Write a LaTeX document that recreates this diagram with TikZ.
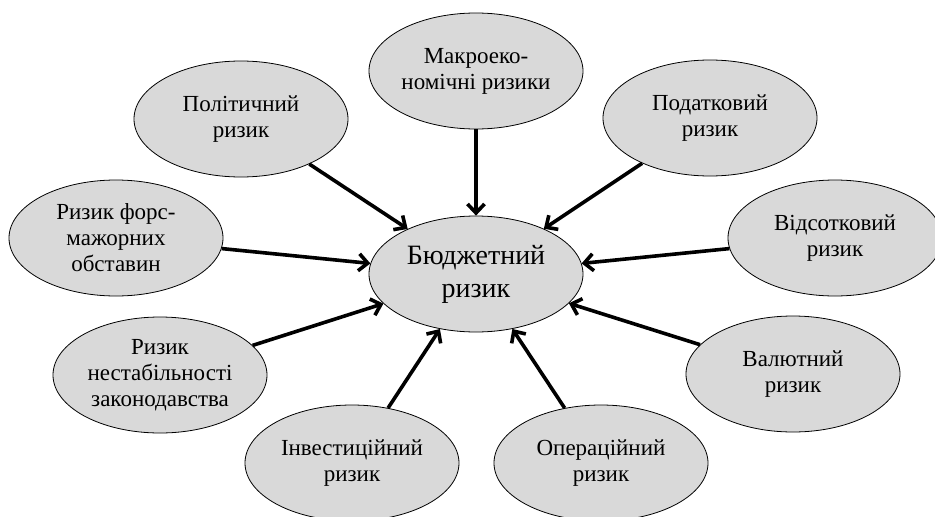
\documentclass[tikz,border=0pt]{standalone}
\usepackage{fontspec}
\setmainfont{Liberation Serif}
\usepackage{tikz}
\usetikzlibrary{shapes.geometric,arrows.meta}

\definecolor{ovalgray}{RGB}{217,217,217}

\begin{document}
\begin{tikzpicture}[
x=1pt, y=-1pt,
risk/.style={ellipse, draw=black, line width=0.8pt, fill=ovalgray, inner sep=0pt, minimum width=214pt, minimum height=116pt, align=center, font=\fontsize{23}{26}\selectfont},
main/.style={risk, font=\fontsize{28}{33}\selectfont},
infl/.style={-{Straight Barb[length=9pt,width=17pt]}, line width=3.6pt}]

\useasboundingbox (0,0) rectangle (935,517);

\node[main] (1) at (476,274) {Бюджетний\\ризик};

\node[risk] (2) at (476,71) {Макроеко-\\номічні ризики};
\node[risk] (3) at (241,119) {Політичний\\ризик};
\node[risk] (4) at (710,118) {Податковий\\ризик};
\node[risk] (5) at (116,238) {Ризик форс-\\мажорних\\обставин};
\node[risk] (6) at (835,238) {Відсотковий\\ризик};
\node[risk] (7) at (160,375) {Ризик\\нестабільності\\законодавства};
\node[risk] (8) at (793,374) {Валютний\\ризик};
\node[risk] (9) at (352,463) {Інвестиційний\\ризик};
\node[risk] (10) at (601,463) {Операційний\\ризик};

\draw[infl](2)--(1);
\draw[infl](3)--(1);
\draw[infl](4)--(1);
\draw[infl](5)--(1);
\draw[infl](6)--(1);
\draw[infl](7)--(1);
\draw[infl](8)--(1);
\draw[infl](9)--(1);
\draw[infl](10)--(1);
\end{tikzpicture}
\end{document}
